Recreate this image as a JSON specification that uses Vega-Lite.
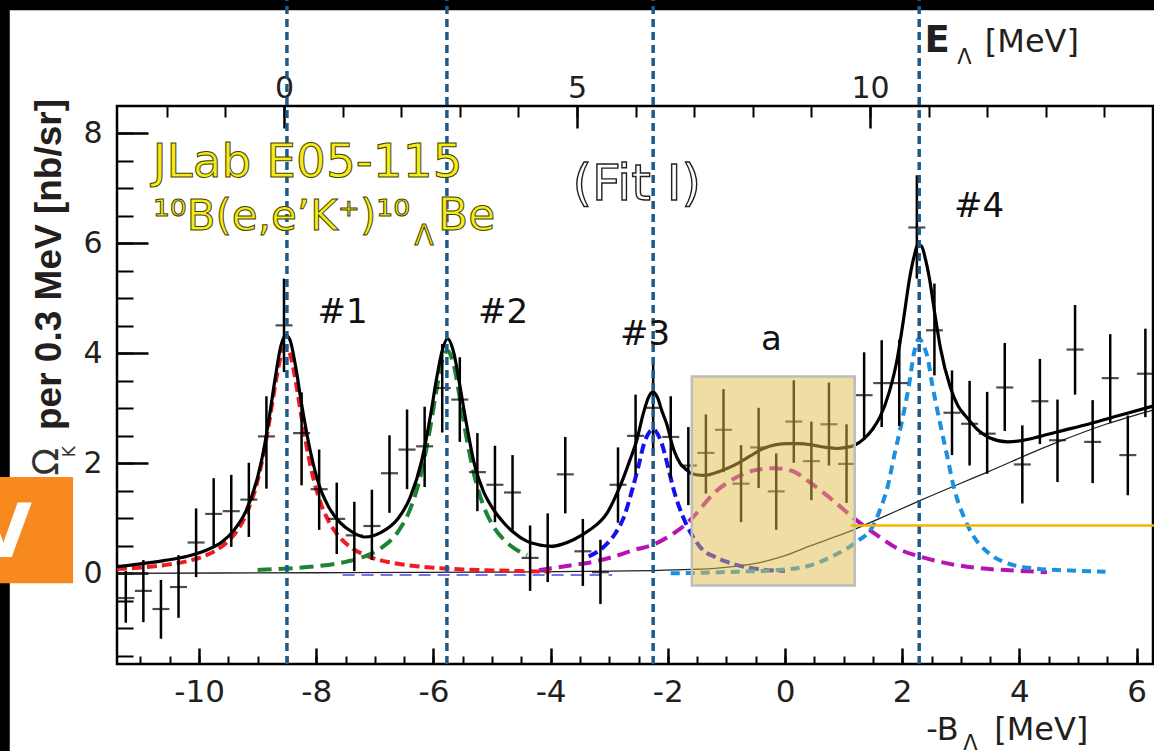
{
  "$schema": "https://vega.github.io/schema/vega-lite/v6.json",
  "width": 1036,
  "height": 558,
  "autosize": {"type": "none"},
  "padding": {"left": 117, "top": 106, "right": 1, "bottom": 87},
  "background": "white",
  "config": {
    "view": {"stroke": "black", "strokeWidth": 2.5},
    "axis": {"domain": false, "grid": false, "labelFont": "DejaVu Sans", "labelColor": "#231f20", "tickColor": "black"}
  },
  "resolve": {"axis": {"x": "independent", "y": "independent"}},
  "datasets": {
    "pts": [
      {"x": -11.25, "y": -0.45, "lo": -0.90, "hi": 0.04},
      {"x": -10.95, "y": -0.32, "lo": -0.89, "hi": 0.24},
      {"x": -10.65, "y": -0.65, "lo": -1.19, "hi": -0.12},
      {"x": -10.35, "y": -0.25, "lo": -0.81, "hi": 0.33},
      {"x": -10.05, "y": 0.56, "lo": -0.07, "hi": 1.18},
      {"x": -9.75, "y": 1.08, "lo": 0.48, "hi": 1.73},
      {"x": -9.45, "y": 1.13, "lo": 0.48, "hi": 1.79},
      {"x": -9.15, "y": 1.34, "lo": 0.66, "hi": 2.01},
      {"x": -8.85, "y": 2.49, "lo": 1.54, "hi": 3.22},
      {"x": -8.55, "y": 4.51, "lo": 3.66, "hi": 5.36},
      {"x": -8.25, "y": 2.55, "lo": 1.60, "hi": 3.29},
      {"x": -7.95, "y": 1.53, "lo": 0.79, "hi": 2.25},
      {"x": -7.65, "y": 0.99, "lo": 0.35, "hi": 1.65},
      {"x": -7.35, "y": 0.69, "lo": 0.04, "hi": 1.30},
      {"x": -7.05, "y": 0.86, "lo": 0.24, "hi": 1.52},
      {"x": -6.75, "y": 1.82, "lo": 1.10, "hi": 2.51},
      {"x": -6.45, "y": 2.25, "lo": 1.53, "hi": 2.98},
      {"x": -6.15, "y": 2.31, "lo": 1.57, "hi": 3.03},
      {"x": -5.85, "y": 3.37, "lo": 2.56, "hi": 4.17},
      {"x": -5.55, "y": 3.16, "lo": 2.39, "hi": 3.93},
      {"x": -5.25, "y": 1.84, "lo": 1.13, "hi": 2.55},
      {"x": -4.95, "y": 1.61, "lo": 0.93, "hi": 2.32},
      {"x": -4.65, "y": 1.47, "lo": 0.78, "hi": 2.15},
      {"x": -4.35, "y": 0.28, "lo": -0.32, "hi": 0.87},
      {"x": -4.05, "y": 0.50, "lo": -0.16, "hi": 1.09},
      {"x": -3.75, "y": 1.80, "lo": 1.09, "hi": 2.48},
      {"x": -3.45, "y": 0.40, "lo": -0.23, "hi": 0.99},
      {"x": -3.15, "y": 0.02, "lo": -0.56, "hi": 0.61},
      {"x": -2.85, "y": 1.61, "lo": 0.92, "hi": 2.29},
      {"x": -2.55, "y": 2.50, "lo": 1.80, "hi": 3.25},
      {"x": -2.25, "y": 3.01, "lo": 2.23, "hi": 3.79},
      {"x": -1.95, "y": 2.48, "lo": 1.73, "hi": 3.22},
      {"x": -1.65, "y": 1.96, "lo": 1.24, "hi": 2.66},
      {"x": -1.35, "y": 2.19, "lo": 1.45, "hi": 2.89},
      {"x": -1.05, "y": 2.61, "lo": 1.84, "hi": 3.35},
      {"x": -0.75, "y": 1.63, "lo": 0.93, "hi": 2.33},
      {"x": -0.45, "y": 2.29, "lo": 1.55, "hi": 3.01},
      {"x": -0.15, "y": 1.49, "lo": 0.79, "hi": 2.18},
      {"x": 0.15, "y": 2.76, "lo": 2.01, "hi": 3.51},
      {"x": 0.45, "y": 2.04, "lo": 1.33, "hi": 2.76},
      {"x": 0.75, "y": 2.71, "lo": 1.96, "hi": 3.47},
      {"x": 1.05, "y": 1.99, "lo": 1.28, "hi": 2.71},
      {"x": 1.35, "y": 3.24, "lo": 2.43, "hi": 4.02},
      {"x": 1.65, "y": 3.46, "lo": 2.66, "hi": 4.24},
      {"x": 1.95, "y": 3.46, "lo": 2.68, "hi": 4.25},
      {"x": 2.25, "y": 6.29, "lo": 5.36, "hi": 7.24},
      {"x": 2.55, "y": 4.42, "lo": 3.60, "hi": 5.27},
      {"x": 2.85, "y": 2.92, "lo": 2.15, "hi": 3.69},
      {"x": 3.15, "y": 2.72, "lo": 1.96, "hi": 3.50},
      {"x": 3.45, "y": 2.54, "lo": 1.81, "hi": 3.30},
      {"x": 3.75, "y": 3.38, "lo": 2.59, "hi": 4.19},
      {"x": 4.05, "y": 1.98, "lo": 1.27, "hi": 2.69},
      {"x": 4.35, "y": 3.13, "lo": 2.35, "hi": 3.90},
      {"x": 4.65, "y": 2.42, "lo": 1.66, "hi": 3.16},
      {"x": 4.95, "y": 4.07, "lo": 3.25, "hi": 4.88},
      {"x": 5.25, "y": 2.39, "lo": 1.64, "hi": 3.15},
      {"x": 5.55, "y": 3.55, "lo": 2.74, "hi": 4.35},
      {"x": 5.85, "y": 2.15, "lo": 1.42, "hi": 2.87},
      {"x": 6.15, "y": 3.63, "lo": 2.84, "hi": 4.45}
    ],
    "curves": [
      {"s": "p1", "x": -11.4, "y": 0.078}, {"s": "p1", "x": -11.0, "y": 0.104}, {"s": "p1", "x": -10.6, "y": 0.147},
      {"s": "p1", "x": -10.2, "y": 0.221}, {"s": "p1", "x": -9.9, "y": 0.319}, {"s": "p1", "x": -9.6, "y": 0.497},
      {"s": "p1", "x": -9.4, "y": 0.705}, {"s": "p1", "x": -9.2, "y": 1.059}, {"s": "p1", "x": -9.0, "y": 1.689},
      {"s": "p1", "x": -8.9, "y": 2.166}, {"s": "p1", "x": -8.8, "y": 2.765}, {"s": "p1", "x": -8.7, "y": 3.426},
      {"s": "p1", "x": -8.6, "y": 3.962}, {"s": "p1", "x": -8.52, "y": 4.12}, {"s": "p1", "x": -8.45, "y": 3.998},
      {"s": "p1", "x": -8.35, "y": 3.49}, {"s": "p1", "x": -8.25, "y": 2.83}, {"s": "p1", "x": -8.1, "y": 1.96},
      {"s": "p1", "x": -7.95, "y": 1.359}, {"s": "p1", "x": -7.8, "y": 0.972}, {"s": "p1", "x": -7.6, "y": 0.655},
      {"s": "p1", "x": -7.4, "y": 0.466}, {"s": "p1", "x": -7.1, "y": 0.303}, {"s": "p1", "x": -6.8, "y": 0.211},
      {"s": "p1", "x": -6.4, "y": 0.142}, {"s": "p1", "x": -6.0, "y": 0.101}, {"s": "p1", "x": -5.5, "y": 0.071},
      {"s": "p1", "x": -5.0, "y": 0.053}, {"s": "p1", "x": -4.5, "y": 0.04}, {"s": "p1", "x": -4.0, "y": 0.032},

      {"s": "p2", "x": -9.0, "y": 0.062}, {"s": "p2", "x": -8.5, "y": 0.087}, {"s": "p2", "x": -8.0, "y": 0.128},
      {"s": "p2", "x": -7.6, "y": 0.187}, {"s": "p2", "x": -7.2, "y": 0.297}, {"s": "p2", "x": -6.9, "y": 0.454},
      {"s": "p2", "x": -6.6, "y": 0.764}, {"s": "p2", "x": -6.4, "y": 1.158}, {"s": "p2", "x": -6.2, "y": 1.858},
      {"s": "p2", "x": -6.05, "y": 2.677}, {"s": "p2", "x": -5.95, "y": 3.32}, {"s": "p2", "x": -5.85, "y": 3.861},
      {"s": "p2", "x": -5.76, "y": 4.05}, {"s": "p2", "x": -5.65, "y": 3.771}, {"s": "p2", "x": -5.55, "y": 3.192},
      {"s": "p2", "x": -5.45, "y": 2.554}, {"s": "p2", "x": -5.3, "y": 1.769}, {"s": "p2", "x": -5.15, "y": 1.239},
      {"s": "p2", "x": -5.0, "y": 0.896}, {"s": "p2", "x": -4.8, "y": 0.612}, {"s": "p2", "x": -4.6, "y": 0.44},
      {"s": "p2", "x": -4.4, "y": 0.33},

      {"s": "p3", "x": -3.35, "y": 0.306}, {"s": "p3", "x": -3.1, "y": 0.475}, {"s": "p3", "x": -2.9, "y": 0.72},
      {"s": "p3", "x": -2.75, "y": 1.022}, {"s": "p3", "x": -2.6, "y": 1.55}, {"s": "p3", "x": -2.5, "y": 1.95},
      {"s": "p3", "x": -2.4, "y": 2.38}, {"s": "p3", "x": -2.32, "y": 2.56}, {"s": "p3", "x": -2.25, "y": 2.62},
      {"s": "p3", "x": -2.18, "y": 2.542}, {"s": "p3", "x": -2.1, "y": 2.35}, {"s": "p3", "x": -2.0, "y": 1.95},
      {"s": "p3", "x": -1.9, "y": 1.52}, {"s": "p3", "x": -1.75, "y": 1.05}, {"s": "p3", "x": -1.6, "y": 0.72},
      {"s": "p3", "x": -1.4, "y": 0.42}, {"s": "p3", "x": -1.2, "y": 0.3}, {"s": "p3", "x": -1.0, "y": 0.21},
      {"s": "p3", "x": -0.7, "y": 0.12}, {"s": "p3", "x": -0.4, "y": 0.07}, {"s": "p3", "x": 0.0, "y": 0.04},

      {"s": "a", "x": -4.2, "y": 0.06}, {"s": "a", "x": -3.61, "y": 0.15}, {"s": "a", "x": -3.27, "y": 0.21},
      {"s": "a", "x": -2.93, "y": 0.3}, {"s": "a", "x": -2.59, "y": 0.42}, {"s": "a", "x": -2.25, "y": 0.52},
      {"s": "a", "x": -1.91, "y": 0.72}, {"s": "a", "x": -1.74, "y": 0.85}, {"s": "a", "x": -1.57, "y": 1.02},
      {"s": "a", "x": -1.22, "y": 1.45}, {"s": "a", "x": -0.82, "y": 1.75}, {"s": "a", "x": -0.5, "y": 1.88},
      {"s": "a", "x": -0.2, "y": 1.91}, {"s": "a", "x": 0.1, "y": 1.87}, {"s": "a", "x": 0.43, "y": 1.65},
      {"s": "a", "x": 0.88, "y": 1.27}, {"s": "a", "x": 1.19, "y": 0.99}, {"s": "a", "x": 1.52, "y": 0.73},
      {"s": "a", "x": 1.92, "y": 0.45}, {"s": "a", "x": 2.32, "y": 0.3}, {"s": "a", "x": 2.77, "y": 0.18},
      {"s": "a", "x": 3.34, "y": 0.09}, {"s": "a", "x": 3.9, "y": 0.05}, {"s": "a", "x": 4.47, "y": 0.02},

      {"s": "p4", "x": -1.95, "y": 0.0}, {"s": "p4", "x": -1.4, "y": 0.01}, {"s": "p4", "x": -0.8, "y": 0.03},
      {"s": "p4", "x": -0.26, "y": 0.05}, {"s": "p4", "x": 0.31, "y": 0.11}, {"s": "p4", "x": 0.77, "y": 0.29},
      {"s": "p4", "x": 1.19, "y": 0.55}, {"s": "p4", "x": 1.52, "y": 0.9}, {"s": "p4", "x": 1.63, "y": 1.18},
      {"s": "p4", "x": 1.75, "y": 1.57}, {"s": "p4", "x": 1.86, "y": 2.12}, {"s": "p4", "x": 2.0, "y": 2.79},
      {"s": "p4", "x": 2.12, "y": 3.45}, {"s": "p4", "x": 2.2, "y": 4.0}, {"s": "p4", "x": 2.29, "y": 4.27},
      {"s": "p4", "x": 2.36, "y": 4.15}, {"s": "p4", "x": 2.43, "y": 3.94}, {"s": "p4", "x": 2.51, "y": 3.45},
      {"s": "p4", "x": 2.66, "y": 2.66}, {"s": "p4", "x": 2.77, "y": 2.12}, {"s": "p4", "x": 2.88, "y": 1.57},
      {"s": "p4", "x": 3.05, "y": 1.03}, {"s": "p4", "x": 3.22, "y": 0.67}, {"s": "p4", "x": 3.45, "y": 0.39},
      {"s": "p4", "x": 3.8, "y": 0.18}, {"s": "p4", "x": 4.25, "y": 0.09}, {"s": "p4", "x": 4.88, "y": 0.05},
      {"s": "p4", "x": 5.47, "y": 0.03},

      {"s": "flat", "x": -7.55, "y": -0.03}, {"s": "flat", "x": -2.95, "y": -0.03},

      {"s": "bg", "x": -11.4, "y": 0.0}, {"s": "bg", "x": -8.0, "y": 0.01}, {"s": "bg", "x": -5.0, "y": 0.02},
      {"s": "bg", "x": -3.0, "y": 0.04}, {"s": "bg", "x": -2.25, "y": 0.05}, {"s": "bg", "x": -1.59, "y": 0.07},
      {"s": "bg", "x": -1.2, "y": 0.09}, {"s": "bg", "x": -0.82, "y": 0.13}, {"s": "bg", "x": -0.5, "y": 0.18},
      {"s": "bg", "x": -0.26, "y": 0.24}, {"s": "bg", "x": 0.0, "y": 0.32}, {"s": "bg", "x": 0.31, "y": 0.45},
      {"s": "bg", "x": 0.77, "y": 0.63}, {"s": "bg", "x": 1.19, "y": 0.8}, {"s": "bg", "x": 1.6, "y": 0.99},
      {"s": "bg", "x": 2.32, "y": 1.33}, {"s": "bg", "x": 3.45, "y": 1.84}, {"s": "bg", "x": 4.64, "y": 2.38},
      {"s": "bg", "x": 5.5, "y": 2.72}, {"s": "bg", "x": 6.28, "y": 2.97},

      {"s": "tot", "x": -11.4, "y": 0.12}, {"s": "tot", "x": -11.0, "y": 0.17}, {"s": "tot", "x": -10.6, "y": 0.23},
      {"s": "tot", "x": -10.2, "y": 0.31}, {"s": "tot", "x": -9.9, "y": 0.41}, {"s": "tot", "x": -9.6, "y": 0.58},
      {"s": "tot", "x": -9.4, "y": 0.79}, {"s": "tot", "x": -9.2, "y": 1.13}, {"s": "tot", "x": -9.0, "y": 1.75},
      {"s": "tot", "x": -8.9, "y": 2.22}, {"s": "tot", "x": -8.8, "y": 2.85}, {"s": "tot", "x": -8.7, "y": 3.55},
      {"s": "tot", "x": -8.6, "y": 4.15}, {"s": "tot", "x": -8.52, "y": 4.33}, {"s": "tot", "x": -8.45, "y": 4.25},
      {"s": "tot", "x": -8.35, "y": 3.75}, {"s": "tot", "x": -8.25, "y": 3.08}, {"s": "tot", "x": -8.1, "y": 2.22},
      {"s": "tot", "x": -7.95, "y": 1.6}, {"s": "tot", "x": -7.8, "y": 1.23}, {"s": "tot", "x": -7.6, "y": 0.93},
      {"s": "tot", "x": -7.4, "y": 0.76}, {"s": "tot", "x": -7.17, "y": 0.66}, {"s": "tot", "x": -6.9, "y": 0.74},
      {"s": "tot", "x": -6.6, "y": 1.0}, {"s": "tot", "x": -6.4, "y": 1.37}, {"s": "tot", "x": -6.2, "y": 2.05},
      {"s": "tot", "x": -6.05, "y": 2.87}, {"s": "tot", "x": -5.95, "y": 3.52}, {"s": "tot", "x": -5.85, "y": 4.05},
      {"s": "tot", "x": -5.76, "y": 4.27}, {"s": "tot", "x": -5.65, "y": 4.0}, {"s": "tot", "x": -5.55, "y": 3.42},
      {"s": "tot", "x": -5.45, "y": 2.8}, {"s": "tot", "x": -5.3, "y": 1.98}, {"s": "tot", "x": -5.15, "y": 1.5},
      {"s": "tot", "x": -5.0, "y": 1.2}, {"s": "tot", "x": -4.8, "y": 0.92}, {"s": "tot", "x": -4.64, "y": 0.75},
      {"s": "tot", "x": -4.4, "y": 0.58}, {"s": "tot", "x": -4.2, "y": 0.52}, {"s": "tot", "x": -3.98, "y": 0.49},
      {"s": "tot", "x": -3.8, "y": 0.53}, {"s": "tot", "x": -3.61, "y": 0.61}, {"s": "tot", "x": -3.33, "y": 0.79},
      {"s": "tot", "x": -3.04, "y": 1.09}, {"s": "tot", "x": -2.82, "y": 1.57}, {"s": "tot", "x": -2.65, "y": 2.05},
      {"s": "tot", "x": -2.53, "y": 2.42}, {"s": "tot", "x": -2.42, "y": 2.9}, {"s": "tot", "x": -2.33, "y": 3.2},
      {"s": "tot", "x": -2.25, "y": 3.3}, {"s": "tot", "x": -2.17, "y": 3.18}, {"s": "tot", "x": -2.1, "y": 2.95},
      {"s": "tot", "x": -2.02, "y": 2.72}, {"s": "tot", "x": -1.9, "y": 2.25}, {"s": "tot", "x": -1.79, "y": 2.0},
      {"s": "tot", "x": -1.7, "y": 1.9}, {"s": "tot", "x": -1.59, "y": 1.81}, {"s": "tot", "x": -1.39, "y": 1.78},
      {"s": "tot", "x": -1.1, "y": 1.86}, {"s": "tot", "x": -0.82, "y": 1.99}, {"s": "tot", "x": -0.6, "y": 2.13},
      {"s": "tot", "x": -0.37, "y": 2.27}, {"s": "tot", "x": -0.15, "y": 2.34}, {"s": "tot", "x": 0.03, "y": 2.36},
      {"s": "tot", "x": 0.25, "y": 2.36}, {"s": "tot", "x": 0.48, "y": 2.33}, {"s": "tot", "x": 0.7, "y": 2.29},
      {"s": "tot", "x": 0.88, "y": 2.27}, {"s": "tot", "x": 1.05, "y": 2.29}, {"s": "tot", "x": 1.19, "y": 2.33},
      {"s": "tot", "x": 1.35, "y": 2.45}, {"s": "tot", "x": 1.5, "y": 2.63}, {"s": "tot", "x": 1.62, "y": 2.84},
      {"s": "tot", "x": 1.78, "y": 3.3}, {"s": "tot", "x": 1.91, "y": 3.87}, {"s": "tot", "x": 2.02, "y": 4.6},
      {"s": "tot", "x": 2.13, "y": 5.39}, {"s": "tot", "x": 2.2, "y": 5.75}, {"s": "tot", "x": 2.27, "y": 5.98},
      {"s": "tot", "x": 2.33, "y": 5.95}, {"s": "tot", "x": 2.4, "y": 5.7}, {"s": "tot", "x": 2.47, "y": 5.33},
      {"s": "tot", "x": 2.56, "y": 4.7}, {"s": "tot", "x": 2.65, "y": 4.11}, {"s": "tot", "x": 2.82, "y": 3.39},
      {"s": "tot", "x": 2.95, "y": 3.05}, {"s": "tot", "x": 3.1, "y": 2.84}, {"s": "tot", "x": 3.3, "y": 2.6},
      {"s": "tot", "x": 3.5, "y": 2.46}, {"s": "tot", "x": 3.8, "y": 2.39}, {"s": "tot", "x": 4.07, "y": 2.42},
      {"s": "tot", "x": 4.35, "y": 2.49}, {"s": "tot", "x": 4.64, "y": 2.57}, {"s": "tot", "x": 5.2, "y": 2.72},
      {"s": "tot", "x": 5.7, "y": 2.87}, {"s": "tot", "x": 6.28, "y": 3.04}
    ]
  },
  "layer": [
    {
      "data": {"values": [{"x1": -13.5, "x2": 6.5, "y1": 10.24, "y2": 10.6}, {"x1": -13.5, "x2": -13.23, "y1": -3.5, "y2": 10.6}]},
      "mark": {"type": "rect", "color": "black"},
      "encoding": {
        "x": {"field": "x1", "type": "quantitative", "scale": {"domain": [-11.4, 6.28], "nice": false, "zero": false}, "axis": null},
        "x2": {"field": "x2"},
        "y": {"field": "y1", "type": "quantitative", "scale": {"domain": [-1.65, 8.5], "nice": false, "zero": false}, "axis": null},
        "y2": {"field": "y2"}
      }
    },
    {
      "data": {"values": [{"t": "Ω", "x": -12.6, "y": 2.03}]},
      "mark": {"type": "text", "angle": 270, "font": "DejaVu Sans", "fontSize": 36, "color": "#333333", "align": "center", "baseline": "middle"},
      "encoding": {
        "x": {"field": "x", "type": "quantitative", "scale": {"domain": [-11.4, 6.28], "nice": false, "zero": false}, "axis": null},
        "y": {"field": "y", "type": "quantitative", "scale": {"domain": [-1.65, 8.5], "nice": false, "zero": false}, "axis": null},
        "text": {"field": "t"}
      }
    },
    {
      "data": {"values": [{"t": "K", "x": -12.2, "y": 2.21}]},
      "mark": {"type": "text", "angle": 270, "font": "DejaVu Sans", "fontSize": 17, "color": "#333333", "align": "center", "baseline": "middle"},
      "encoding": {
        "x": {"field": "x", "type": "quantitative", "scale": {"domain": [-11.4, 6.28], "nice": false, "zero": false}, "axis": null},
        "y": {"field": "y", "type": "quantitative", "scale": {"domain": [-1.65, 8.5], "nice": false, "zero": false}, "axis": null},
        "text": {"field": "t"}
      }
    },
    {
      "data": {"name": "curves"},
      "transform": [{"filter": "datum.s === 'bg'"}],
      "mark": {"type": "line", "color": "#222222", "strokeWidth": 1.3, "interpolate": "monotone"},
      "encoding": {
        "x": {"field": "x", "type": "quantitative", "scale": {"domain": [-11.4, 6.28], "nice": false, "zero": false}, "axis": null},
        "y": {"field": "y", "type": "quantitative", "scale": {"domain": [-1.65, 8.5], "nice": false, "zero": false}, "axis": null}
      }
    },
    {
      "data": {"name": "curves"},
      "transform": [{"filter": "datum.s === 'flat'"}],
      "mark": {"type": "line", "color": "#7474e8", "strokeWidth": 2, "strokeDash": [12, 7]},
      "encoding": {
        "x": {"field": "x", "type": "quantitative", "scale": {"domain": [-11.4, 6.28], "nice": false, "zero": false}, "axis": null},
        "y": {"field": "y", "type": "quantitative", "scale": {"domain": [-1.65, 8.5], "nice": false, "zero": false}, "axis": null}
      }
    },
    {
      "data": {"name": "curves"},
      "transform": [{"filter": "datum.s === 'p1'"}],
      "mark": {"type": "line", "color": "#ee1c24", "strokeWidth": 4, "strokeDash": [10, 5], "interpolate": "monotone"},
      "encoding": {
        "x": {"field": "x", "type": "quantitative", "scale": {"domain": [-11.4, 6.28], "nice": false, "zero": false}, "axis": null},
        "y": {"field": "y", "type": "quantitative", "scale": {"domain": [-1.65, 8.5], "nice": false, "zero": false}, "axis": null}
      }
    },
    {
      "data": {"name": "curves"},
      "transform": [{"filter": "datum.s === 'p2'"}],
      "mark": {"type": "line", "color": "#1d8436", "strokeWidth": 4, "strokeDash": [14, 7], "interpolate": "monotone"},
      "encoding": {
        "x": {"field": "x", "type": "quantitative", "scale": {"domain": [-11.4, 6.28], "nice": false, "zero": false}, "axis": null},
        "y": {"field": "y", "type": "quantitative", "scale": {"domain": [-1.65, 8.5], "nice": false, "zero": false}, "axis": null}
      }
    },
    {
      "data": {"name": "curves"},
      "transform": [{"filter": "datum.s === 'p3'"}],
      "mark": {"type": "line", "color": "#1212f0", "strokeWidth": 4, "strokeDash": [10, 5], "interpolate": "monotone"},
      "encoding": {
        "x": {"field": "x", "type": "quantitative", "scale": {"domain": [-11.4, 6.28], "nice": false, "zero": false}, "axis": null},
        "y": {"field": "y", "type": "quantitative", "scale": {"domain": [-1.65, 8.5], "nice": false, "zero": false}, "axis": null}
      }
    },
    {
      "data": {"name": "curves"},
      "transform": [{"filter": "datum.s === 'a'"}],
      "mark": {"type": "line", "color": "#b414b4", "strokeWidth": 4, "strokeDash": [13, 7], "interpolate": "monotone"},
      "encoding": {
        "x": {"field": "x", "type": "quantitative", "scale": {"domain": [-11.4, 6.28], "nice": false, "zero": false}, "axis": null},
        "y": {"field": "y", "type": "quantitative", "scale": {"domain": [-1.65, 8.5], "nice": false, "zero": false}, "axis": null}
      }
    },
    {
      "data": {"name": "curves"},
      "transform": [{"filter": "datum.s === 'p4'"}],
      "mark": {"type": "line", "color": "#1c90e0", "strokeWidth": 4, "strokeDash": [9, 6], "interpolate": "monotone"},
      "encoding": {
        "x": {"field": "x", "type": "quantitative", "scale": {"domain": [-11.4, 6.28], "nice": false, "zero": false}, "axis": null},
        "y": {"field": "y", "type": "quantitative", "scale": {"domain": [-1.65, 8.5], "nice": false, "zero": false}, "axis": null}
      }
    },
    {
      "data": {"name": "curves"},
      "transform": [{"filter": "datum.s === 'tot'"}],
      "mark": {"type": "line", "color": "black", "strokeWidth": 3.2, "interpolate": "monotone"},
      "encoding": {
        "x": {"field": "x", "type": "quantitative", "scale": {"domain": [-11.4, 6.28], "nice": false, "zero": false},
          "axis": {"orient": "top", "values": [-8.55, -3.55, 1.45], "labelExpr": "'' + round(datum.value + 8.55)", "tickSize": -22, "tickWidth": 2.5, "labelFontSize": 30, "labelPadding": 31, "labelBaseline": "alphabetic", "labelOverlap": false, "labelFlush": false, "title": null}},
        "y": {"field": "y", "type": "quantitative", "scale": {"domain": [-1.65, 8.5], "nice": false, "zero": false}, "axis": null}
      }
    },
    {
      "data": {"name": "pts"},
      "mark": {"type": "rule", "color": "black", "strokeWidth": 2.5},
      "encoding": {
        "x": {"field": "x", "type": "quantitative", "scale": {"domain": [-11.4, 6.28], "nice": false, "zero": false},
          "axis": {"orient": "bottom", "values": [-10, -8, -6, -4, -2, 0, 2, 4, 6], "labelExpr": "'' + datum.value", "tickSize": -16, "tickWidth": 2.5, "labelFontSize": 31, "labelPadding": 29, "labelOverlap": false, "labelFlush": false, "title": null}},
        "y": {"field": "lo", "type": "quantitative", "scale": {"domain": [-1.65, 8.5], "nice": false, "zero": false},
          "axis": {"orient": "left", "values": [0, 2, 4, 6, 8], "labelExpr": "'' + datum.value", "tickSize": -31, "tickWidth": 2.5, "labelFontSize": 30, "labelPadding": 46, "labelOverlap": false, "labelFlush": false,
            "title": "per 0.3 MeV [nb/sr]", "titleFont": "Liberation Sans", "titleFontWeight": "bold", "titleFontSize": 37, "titleAngle": 270, "titleX": -68, "titleY": 158, "titleAlign": "center", "titleBaseline": "middle", "titleColor": "#231f20"}},
        "y2": {"field": "hi"}
      }
    },
    {
      "data": {"name": "pts"},
      "mark": {"type": "tick", "orient": "horizontal", "color": "black", "size": 17, "thickness": 2.2},
      "encoding": {
        "x": {"field": "x", "type": "quantitative", "scale": {"domain": [-11.4, 6.28], "nice": false, "zero": false},
          "axis": {"orient": "bottom", "values": [-11, -10.5, -10, -9.5, -9, -8.5, -8, -7.5, -7, -6.5, -6, -5.5, -5, -4.5, -4, -3.5, -3, -2.5, -2, -1.5, -1, -0.5, 0, 0.5, 1, 1.5, 2, 2.5, 3, 3.5, 4, 4.5, 5, 5.5, 6], "labels": false, "tickSize": -8, "tickWidth": 2, "title": null}},
        "y": {"field": "y", "type": "quantitative", "scale": {"domain": [-1.65, 8.5], "nice": false, "zero": false},
          "axis": {"orient": "left", "values": [-1.5, -1, -0.5, 0, 0.5, 1, 1.5, 2, 2.5, 3, 3.5, 4, 4.5, 5, 5.5, 6, 6.5, 7, 7.5, 8], "labels": false, "tickSize": -16, "tickWidth": 2, "title": null}}
      }
    },
    {
      "data": {"values": [{"x": -8.5}, {"x": -5.77}, {"x": -2.25}, {"x": 2.29}]},
      "mark": {"type": "rule", "color": "#1d5a8c", "strokeWidth": 3.5, "strokeDash": [8, 5]},
      "encoding": {
        "x": {"field": "x", "type": "quantitative", "scale": {"domain": [-11.4, 6.28], "nice": false, "zero": false},
          "axis": {"orient": "top", "values": [-10.55, -9.55, -8.55, -7.55, -6.55, -5.55, -4.55, -3.55, -2.55, -1.55, -0.55, 0.45, 1.45, 2.45, 3.45, 4.45, 5.45], "labels": false, "tickSize": -11, "tickWidth": 2, "title": null}},
        "y": {"datum": -1.65, "type": "quantitative", "scale": {"domain": [-1.65, 8.5], "nice": false, "zero": false}, "axis": null},
        "y2": {"datum": 10.5}
      }
    },
    {
      "data": {"values": [{"x1": -1.59, "x2": 1.19, "y1": -0.22, "y2": 3.58}]},
      "mark": {"type": "rect", "fill": "#e0bc48", "fillOpacity": 0.5, "stroke": "#bdbdbd", "strokeWidth": 2.5},
      "encoding": {
        "x": {"field": "x1", "type": "quantitative", "scale": {"domain": [-11.4, 6.28], "nice": false, "zero": false}, "axis": null},
        "x2": {"field": "x2"},
        "y": {"field": "y1", "type": "quantitative", "scale": {"domain": [-1.65, 8.5], "nice": false, "zero": false}, "axis": null},
        "y2": {"field": "y2"}
      }
    },
    {
      "data": {"values": [{"x1": 1.12, "x2": 6.5, "y": 0.87}]},
      "mark": {"type": "rule", "color": "#f5b400", "strokeWidth": 2.5},
      "encoding": {
        "x": {"field": "x1", "type": "quantitative", "scale": {"domain": [-11.4, 6.28], "nice": false, "zero": false}, "axis": null},
        "x2": {"field": "x2"},
        "y": {"field": "y", "type": "quantitative", "scale": {"domain": [-1.65, 8.5], "nice": false, "zero": false}, "axis": null}
      }
    },
    {
      "data": {"values": [{"t": "#1", "x": -7.55, "y": 4.55}, {"t": "#2", "x": -4.81, "y": 4.55}, {"t": "#3", "x": -2.39, "y": 4.15}, {"t": "a", "x": -0.23, "y": 4.06}, {"t": "#4", "x": 3.31, "y": 6.48}]},
      "mark": {"type": "text", "font": "DejaVu Sans", "fontSize": 34, "color": "#111111", "align": "center", "baseline": "alphabetic"},
      "encoding": {
        "x": {"field": "x", "type": "quantitative", "scale": {"domain": [-11.4, 6.28], "nice": false, "zero": false}, "axis": null},
        "y": {"field": "y", "type": "quantitative", "scale": {"domain": [-1.65, 8.5], "nice": false, "zero": false}, "axis": null},
        "text": {"field": "t"}
      }
    },
    {
      "data": {"values": [{"t": "(Fit I)", "x": -2.53, "y": 6.79}]},
      "mark": {"type": "text", "font": "DejaVu Sans", "fontSize": 50, "fill": "white", "stroke": "#222222", "strokeWidth": 1.4, "align": "center", "baseline": "alphabetic"},
      "encoding": {
        "x": {"field": "x", "type": "quantitative", "scale": {"domain": [-11.4, 6.28], "nice": false, "zero": false}, "axis": null},
        "y": {"field": "y", "type": "quantitative", "scale": {"domain": [-1.65, 8.5], "nice": false, "zero": false}, "axis": null},
        "text": {"field": "t"}
      }
    },
    {
      "data": {"values": [{"t": "JLab E05-115", "x": -10.79, "y": 7.21}]},
      "mark": {"type": "text", "font": "DejaVu Sans", "fontSize": 47, "fill": "#f3ec1b", "stroke": "#4a4200", "strokeWidth": 1, "align": "left", "baseline": "alphabetic"},
      "encoding": {
        "x": {"field": "x", "type": "quantitative", "scale": {"domain": [-11.4, 6.28], "nice": false, "zero": false}, "axis": null},
        "y": {"field": "y", "type": "quantitative", "scale": {"domain": [-1.65, 8.5], "nice": false, "zero": false}, "axis": null},
        "text": {"field": "t"}
      }
    },
    {
      "data": {"values": [{"t": "Be", "x": -5.92, "y": 6.24}]},
      "mark": {"type": "text", "font": "DejaVu Sans", "fontSize": 44, "fill": "#f3ec1b", "stroke": "#4a4200", "strokeWidth": 1, "align": "left", "baseline": "alphabetic"},
      "encoding": {
        "x": {"field": "x", "type": "quantitative", "scale": {"domain": [-11.4, 6.28], "nice": false, "zero": false}, "axis": null},
        "y": {"field": "y", "type": "quantitative", "scale": {"domain": [-1.65, 8.5], "nice": false, "zero": false}, "axis": null},
        "text": {"field": "t"}
      }
    },
    {
      "data": {"values": [{"t": "¹⁰B(e,e’K⁺)¹⁰", "x": -6.4, "y": 6.24}]},
      "mark": {"type": "text", "font": "DejaVu Sans", "fontSize": 42, "fill": "#f3ec1b", "stroke": "#4a4200", "strokeWidth": 1, "align": "right", "baseline": "alphabetic"},
      "encoding": {
        "x": {"field": "x", "type": "quantitative", "scale": {"domain": [-11.4, 6.28], "nice": false, "zero": false}, "axis": null},
        "y": {"field": "y", "type": "quantitative", "scale": {"domain": [-1.65, 8.5], "nice": false, "zero": false}, "axis": null},
        "text": {"field": "t"}
      }
    },
    {
      "data": {"values": [{"t": "Λ", "x": -6.16, "y": 5.97}]},
      "mark": {"type": "text", "font": "DejaVu Sans", "fontSize": 28, "fill": "#f3ec1b", "stroke": "#4a4200", "strokeWidth": 1, "align": "center", "baseline": "alphabetic"},
      "encoding": {
        "x": {"field": "x", "type": "quantitative", "scale": {"domain": [-11.4, 6.28], "nice": false, "zero": false}, "axis": null},
        "y": {"field": "y", "type": "quantitative", "scale": {"domain": [-1.65, 8.5], "nice": false, "zero": false}, "axis": null},
        "text": {"field": "t"}
      }
    },
    {
      "data": {"values": [{"t": "[MeV]", "x": 3.41, "y": 9.48}, {"t": "-B", "x": 2.41, "y": -3.04}, {"t": "[MeV]", "x": 3.57, "y": -3.04}]},
      "mark": {"type": "text", "font": "DejaVu Sans", "fontSize": 32, "color": "#231f20", "align": "left", "baseline": "alphabetic"},
      "encoding": {
        "x": {"field": "x", "type": "quantitative", "scale": {"domain": [-11.4, 6.28], "nice": false, "zero": false}, "axis": null},
        "y": {"field": "y", "type": "quantitative", "scale": {"domain": [-1.65, 8.5], "nice": false, "zero": false}, "axis": null},
        "text": {"field": "t"}
      }
    },
    {
      "data": {"values": [{"t": "E", "x": 2.38, "y": 9.48}]},
      "mark": {"type": "text", "font": "DejaVu Sans", "fontSize": 37, "fontWeight": "bold", "color": "#231f20", "align": "left", "baseline": "alphabetic"},
      "encoding": {
        "x": {"field": "x", "type": "quantitative", "scale": {"domain": [-11.4, 6.28], "nice": false, "zero": false}, "axis": null},
        "y": {"field": "y", "type": "quantitative", "scale": {"domain": [-1.65, 8.5], "nice": false, "zero": false}, "axis": null},
        "text": {"field": "t"}
      }
    },
    {
      "data": {"values": [{"t": "Λ", "x": 2.94, "y": 9.26}, {"t": "Λ", "x": 3.04, "y": -3.21}]},
      "mark": {"type": "text", "font": "DejaVu Sans", "fontSize": 21, "color": "#231f20", "align": "left", "baseline": "alphabetic"},
      "encoding": {
        "x": {"field": "x", "type": "quantitative", "scale": {"domain": [-11.4, 6.28], "nice": false, "zero": false}, "axis": null},
        "y": {"field": "y", "type": "quantitative", "scale": {"domain": [-1.65, 8.5], "nice": false, "zero": false}, "axis": null},
        "text": {"field": "t"}
      }
    },
    {
      "data": {"values": [{"x1": -13.5, "x2": -12.15, "y1": -0.18, "y2": 1.75}]},
      "mark": {"type": "rect", "color": "#f7891f"},
      "encoding": {
        "x": {"field": "x1", "type": "quantitative", "scale": {"domain": [-11.4, 6.28], "nice": false, "zero": false}, "axis": null},
        "x2": {"field": "x2"},
        "y": {"field": "y1", "type": "quantitative", "scale": {"domain": [-1.65, 8.5], "nice": false, "zero": false}, "axis": null},
        "y2": {"field": "y2"}
      }
    },
    {
      "data": {"values": [{"t": "V", "x": -13.34, "y": 0.3}]},
      "mark": {"type": "text", "font": "DejaVu Sans", "fontSize": 74, "fontWeight": "bold", "color": "white", "align": "center", "baseline": "alphabetic"},
      "encoding": {
        "x": {"field": "x", "type": "quantitative", "scale": {"domain": [-11.4, 6.28], "nice": false, "zero": false}, "axis": null},
        "y": {"field": "y", "type": "quantitative", "scale": {"domain": [-1.65, 8.5], "nice": false, "zero": false}, "axis": null},
        "text": {"field": "t"}
      }
    }
  ]
}
